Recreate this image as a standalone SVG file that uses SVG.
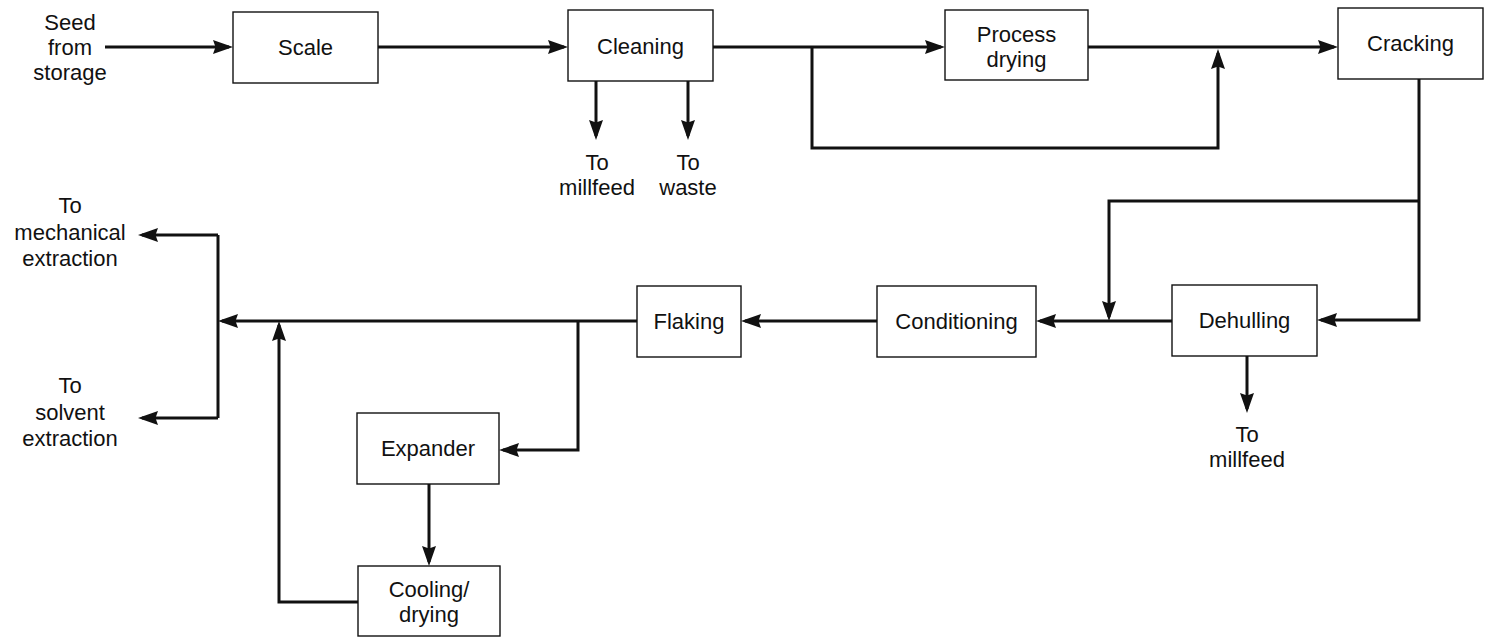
<svg xmlns="http://www.w3.org/2000/svg" width="1486" height="642" viewBox="0 0 1486 642">
<style>
.box{fill:#fff;stroke:#111;stroke-width:1.4}
.t{font-family:"Liberation Sans",Arial,sans-serif;font-size:22px;fill:#111;text-anchor:middle}
.c{fill:none;stroke:#111;stroke-width:3;stroke-linejoin:miter}
.a{marker-end:url(#ah)}
</style>
<defs>
<marker id="ah" viewBox="0 0 20 14" refX="16" refY="7" markerWidth="20" markerHeight="14" markerUnits="userSpaceOnUse" orient="auto">
<path d="M0,0 L20,7 L0,14 L2.5,7 Z" fill="#111"/>
</marker>
</defs>
<rect width="1486" height="642" fill="#fff"/>
<g id="connectors">
<path class="c a" d="M105,47 H229"/>
<path class="c a" d="M378,47 H564"/>
<path class="c a" d="M713,47 H941"/>
<path class="c a" d="M1088,47 H1334"/>
<path class="c a" d="M812,47 V148 H1218 V53"/>
<path class="c a" d="M596,81 V136"/>
<path class="c a" d="M688,81 V136"/>
<path class="c a" d="M1419,79 V320 H1321"/>
<path class="c a" d="M1419,201 H1109 V317"/>
<path class="c a" d="M1172,321 H1040"/>
<path class="c a" d="M1247,356 V409"/>
<path class="c a" d="M877,321 H745"/>
<path class="c a" d="M637,321 H222"/>
<path class="c" d="M218,235 V418"/>
<path class="c a" d="M218,235 H142"/>
<path class="c a" d="M218,418 H142"/>
<path class="c a" d="M578,321 V450 H503"/>
<path class="c a" d="M429,484 V562"/>
<path class="c a" d="M358,602 H279 V325"/>
</g>
<g id="seed"><text class="t" x="70" y="30">Seed</text><text class="t" x="70" y="55">from</text><text class="t" x="70" y="80">storage</text></g>
<g id="scale"><rect class="box" x="233" y="12" width="145" height="71"/><text class="t" x="305.5" y="55">Scale</text></g>
<g id="cleaning"><rect class="box" x="568" y="10" width="145" height="71"/><text class="t" x="640.5" y="54">Cleaning</text></g>
<g id="cleaning-millfeed"><text class="t" x="597" y="170">To</text><text class="t" x="597" y="195">millfeed</text></g>
<g id="cleaning-waste"><text class="t" x="688" y="170">To</text><text class="t" x="688" y="195">waste</text></g>
<g id="process-drying"><rect class="box" x="945" y="10" width="143" height="70"/><text class="t" x="1016.5" y="42">Process</text><text class="t" x="1016.5" y="67">drying</text></g>
<g id="cracking"><rect class="box" x="1338" y="8" width="145" height="71"/><text class="t" x="1410.5" y="51">Cracking</text></g>
<g id="dehulling"><rect class="box" x="1172" y="285" width="145" height="71"/><text class="t" x="1244.5" y="328">Dehulling</text></g>
<g id="dehulling-millfeed"><text class="t" x="1247" y="442">To</text><text class="t" x="1247" y="467">millfeed</text></g>
<g id="conditioning"><rect class="box" x="877" y="286" width="159" height="71"/><text class="t" x="956.5" y="329">Conditioning</text></g>
<g id="flaking"><rect class="box" x="637" y="286" width="104" height="71"/><text class="t" x="689" y="329">Flaking</text></g>
<g id="mechanical"><text class="t" x="70" y="213">To</text><text class="t" x="70" y="240">mechanical</text><text class="t" x="70" y="266">extraction</text></g>
<g id="solvent"><text class="t" x="70" y="393">To</text><text class="t" x="70" y="420">solvent</text><text class="t" x="70" y="446">extraction</text></g>
<g id="expander"><rect class="box" x="357" y="413" width="142" height="71"/><text class="t" x="428" y="456">Expander</text></g>
<g id="cooling"><rect class="box" x="358" y="566" width="142" height="70"/><text class="t" x="429" y="597">Cooling/</text><text class="t" x="429" y="622">drying</text></g>
</svg>
